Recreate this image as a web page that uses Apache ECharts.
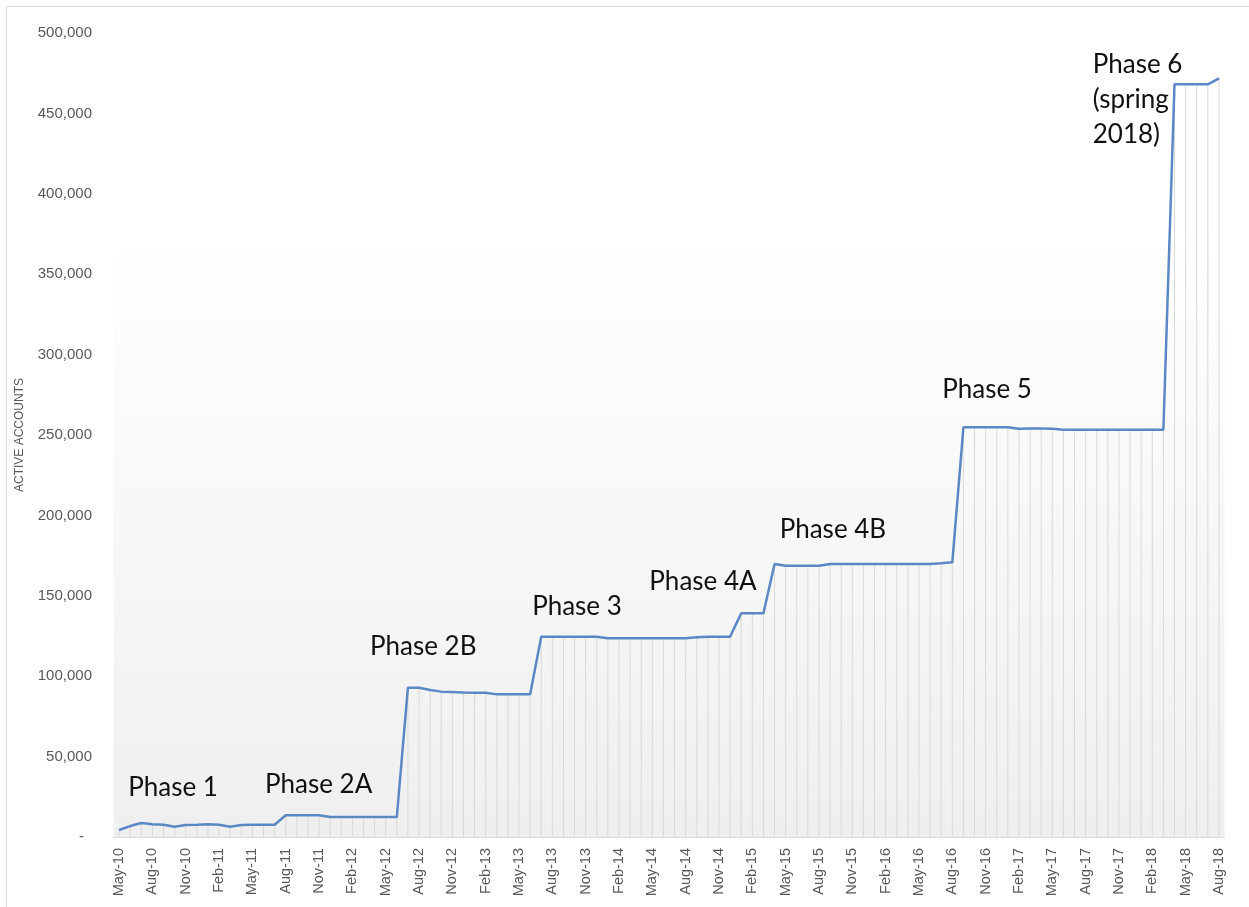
<!DOCTYPE html>
<html>
<head>
<meta charset="utf-8">
<script src="https://cdn.jsdelivr.net/npm/echarts@6/dist/echarts.min.js"></script>
<style>
html,body{margin:0;padding:0;background:#fff;}
#chart{width:1249px;height:907px;}
</style>
</head>
<body>
<div id="chart"></div>
<script>
var categories = [
  'May-10','Jun-10','Jul-10','Aug-10','Sep-10','Oct-10','Nov-10','Dec-10',
  'Jan-11','Feb-11','Mar-11','Apr-11','May-11','Jun-11','Jul-11','Aug-11','Sep-11','Oct-11','Nov-11','Dec-11',
  'Jan-12','Feb-12','Mar-12','Apr-12','May-12','Jun-12','Jul-12','Aug-12','Sep-12','Oct-12','Nov-12','Dec-12',
  'Jan-13','Feb-13','Mar-13','Apr-13','May-13','Jun-13','Jul-13','Aug-13','Sep-13','Oct-13','Nov-13','Dec-13',
  'Jan-14','Feb-14','Mar-14','Apr-14','May-14','Jun-14','Jul-14','Aug-14','Sep-14','Oct-14','Nov-14','Dec-14',
  'Jan-15','Feb-15','Mar-15','Apr-15','May-15','Jun-15','Jul-15','Aug-15','Sep-15','Oct-15','Nov-15','Dec-15',
  'Jan-16','Feb-16','Mar-16','Apr-16','May-16','Jun-16','Jul-16','Aug-16','Sep-16','Oct-16','Nov-16','Dec-16',
  'Jan-17','Feb-17','Mar-17','Apr-17','May-17','Jun-17','Jul-17','Aug-17','Sep-17','Oct-17','Nov-17','Dec-17',
  'Jan-18','Feb-18','Mar-18','Apr-18','May-18','Jun-18','Jul-18','Aug-18'
];

var activeAccounts = [
  4350, 6800, 8700, 7900, 7650, 6400, 7450, 7650, 7900, 7650,
  6400, 7450, 7650, 7650, 7650, 13500, 13500, 13500, 13500, 12400,
  12400, 12400, 12400, 12400, 12400, 12400, 92850, 92800, 91400, 90400,
  90200, 89900, 89700, 89700, 88700, 88700, 88700, 88700, 124500, 124500,
  124500, 124500, 124500, 124500, 123600, 123600, 123600, 123600, 123600, 123600,
  123600, 123600, 124200, 124500, 124500, 124500, 139100, 139100, 139100, 169800,
  168700, 168700, 168700, 168700, 169800, 169800, 169800, 169800, 169800, 169800,
  169800, 169800, 169800, 169800, 170200, 170800, 254800, 254800, 254800, 254800,
  254800, 253900, 254100, 254100, 253900, 253300, 253300, 253300, 253300, 253300,
  253300, 253300, 253300, 253300, 253300, 468100, 468100, 468100, 468100, 471800
];

var yTicks = [0, 50000, 100000, 150000, 200000, 250000, 300000, 350000, 400000, 450000, 500000];

var phaseNames = ['Phase 1', 'Phase 2A', 'Phase 2B', 'Phase 3', 'Phase 4A', 'Phase 4B', 'Phase 5', 'Phase 6\n(spring\n2018)'];
var phaseAt = [1, 13, 23, 37, 48, 60, 74, 88];
var phaseValue = [30500, 32300, 118200, 143000, 158600, 190900, 278000, 458300];
var phaseShift = [-2, 1.5, -4.6, 2, -3, -6, 1, -4];

var chart = echarts.init(document.getElementById('chart'), null, {renderer: 'canvas'});

var markData = phaseNames.map(function (n, k) {
  return {
    name: n,
    coord: [phaseAt[k], phaseValue[k]],
    label: {offset: [phaseShift[k], 0]}
  };
});

var option = {
  backgroundColor: '#ffffff',
  animation: false,
  graphic: [{
    type: 'rect',
    shape: {x: 6.5, y: 6.5, width: 1400, height: 1000},
    style: {fill: 'none', stroke: '#d9d9d9', lineWidth: 1},
    silent: true
  }],
  grid: {
    left: 113.5, right: 24.5, top: 33, bottom: 70,
    show: true,
    borderWidth: 0,
    backgroundColor: new echarts.graphic.LinearGradient(0, 0, 0, 1, [
      {offset: 0, color: '#ffffff'},
      {offset: 0.25, color: '#ffffff'},
      {offset: 1, color: '#efefef'}
    ])
  },
  xAxis: {
    type: 'category',
    data: categories,
    boundaryGap: true,
    axisLine: {lineStyle: {color: '#d9d9d9', width: 1}},
    axisTick: {show: false},
    axisLabel: {
      interval: 2,
      rotate: 90,
      margin: 11,
      color: '#595959',
      fontSize: 14.5,
      fontFamily: 'Liberation Sans, Arial, sans-serif'
    },
    splitLine: {show: false}
  },
  yAxis: {
    type: 'value',
    min: yTicks[0],
    max: yTicks[yTicks.length - 1],
    interval: yTicks[1] - yTicks[0],
    name: 'ACTIVE ACCOUNTS',
    nameLocation: 'middle',
    nameGap: 88,
    nameTextStyle: {color: '#595959', fontSize: 12, fontFamily: 'Liberation Sans, Arial, sans-serif'},
    axisLine: {show: false},
    axisTick: {show: false},
    splitLine: {show: false},
    axisLabel: {
      margin: 21.5,
      color: '#595959',
      fontSize: 15,
      fontFamily: 'Liberation Sans, Arial, sans-serif',
      formatter: function (v) {
        if (v === 0) return '{d|-}';
        return v.toLocaleString('en-US');
      },
      rich: {d: {padding: [0, 8, 0, 0], color: '#595959', fontSize: 15}}
    }
  },
  series: [
    {
      type: 'bar',
      data: activeAccounts,
      barWidth: 1,
      itemStyle: {color: '#d9d9d9'},
      silent: true,
      z: 1
    },
    {
      type: 'line',
      data: activeAccounts,
      symbol: 'none',
      lineStyle: {color: '#5b87c5', width: 2.5},
      z: 3,
      markPoint: {
        symbol: 'circle',
        symbolSize: 0,
        silent: true,
        label: {
          show: true,
          position: 'right',
          distance: 0,
          formatter: '{b}',
          color: '#111111',
          fontSize: 26,
          lineHeight: 35,
          fontFamily: 'Lato, Noto Sans, sans-serif'
        },
        data: markData
      }
    }
  ]
};

chart.setOption(option);
</script>
</body>
</html>
